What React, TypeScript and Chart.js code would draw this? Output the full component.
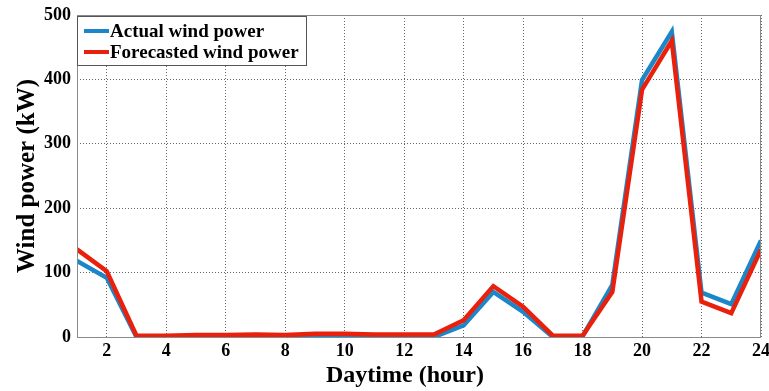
import React, { useEffect, useRef } from "react";
import { Chart, registerables } from "chart.js";

Chart.register(...registerables);

// Hours of the day
const hours = [1, 2, 3, 4, 5, 6, 7, 8, 9, 10, 11, 12, 13, 14, 15, 16, 17, 18, 19, 20, 21, 22, 23, 24];
// Measured wind power (kW)
const actualPower = [118, 92, 0, 1, 1, 1, 1, 1, 2, 2, 2, 1, 0, 18, 70, 39, 0, 1, 81, 399, 474, 69, 51, 150];
// Forecasted wind power (kW)
const forecastPower = [136, 102, 2, 2, 3, 3, 4, 3, 5, 5, 4, 4, 4, 26, 79, 47, 2, 2, 70, 384, 460, 55, 37, 136];
const xTicks = [2, 4, 6, 8, 10, 12, 14, 16, 18, 20, 22, 24];
const yTicks = [0, 100, 200, 300, 400, 500];
const xTitle = "Daytime (hour)";
const yTitle = "Wind power (kW)";

const BLUE = "#1b87c9";
const RED = "#e8200c";
const FONT = "'Liberation Serif', 'Times New Roman', serif";

const boxPlugin = {
  id: "boxAndLegend",
  afterDraw(chart: any) {
    const { ctx, chartArea } = chart;
    ctx.save();
    ctx.strokeStyle = "#8a8a8a";
    ctx.lineWidth = 1;
    ctx.setLineDash([]);
    ctx.strokeRect(chartArea.left + 0.5, chartArea.top + 0.5, chartArea.right - chartArea.left - 1, chartArea.bottom - chartArea.top);

    // legend box in the upper-left corner
    const lx = chartArea.left;
    const ly = chartArea.top + 1;
    const lw = 229;
    const lh = 49;
    ctx.fillStyle = "#ffffff";
    ctx.fillRect(lx, ly, lw, lh);
    ctx.strokeStyle = "#555555";
    ctx.strokeRect(lx + 0.5, ly + 0.5, lw, lh);
    ctx.font = `bold 19px ${FONT}`;
    ctx.textBaseline = "middle";
    ctx.fillStyle = "#000000";
    chart.data.datasets.forEach((ds: any, i: number) => {
      const cy = ly + 15 + i * 21;
      ctx.strokeStyle = ds.borderColor;
      ctx.lineWidth = 4;
      ctx.beginPath();
      ctx.moveTo(lx + 7, cy);
      ctx.lineTo(lx + 32, cy);
      ctx.stroke();
      ctx.fillText(ds.label, lx + 33, cy + 1);
    });

    // axis titles
    ctx.fillStyle = "#000000";
    ctx.textAlign = "center";
    ctx.textBaseline = "middle";
    ctx.font = `bold 24px ${FONT}`;
    ctx.fillText(xTitle, 405, 376);
    ctx.translate(28, (chartArea.top + chartArea.bottom) / 2);
    ctx.rotate(-Math.PI / 2);
    ctx.font = `bold 25px ${FONT}`;
    ctx.fillText(yTitle, 0, 0);
    ctx.restore();
  },
};

export default function App() {
  const canvasRef = useRef<HTMLCanvasElement>(null);

  useEffect(() => {
    if (!canvasRef.current) return;
    const chart = new Chart(canvasRef.current, {
      type: "line",
      data: {
        datasets: [
          {
            label: "Actual wind power",
            data: hours.map((h, i) => ({ x: h, y: actualPower[i] })),
            borderColor: BLUE,
            borderWidth: 4.5,
            pointRadius: 0,
            tension: 0,
            order: 2,
          },
          {
            label: "Forecasted wind power",
            data: hours.map((h, i) => ({ x: h, y: forecastPower[i] })),
            borderColor: RED,
            borderWidth: 4.5,
            pointRadius: 0,
            tension: 0,
            order: 1,
          },
        ],
      },
      options: {
        responsive: false,
        animation: false,
        layout: { padding: { top: 15, right: 8, left: 0, bottom: 0 } },
        plugins: { legend: { display: false }, tooltip: { enabled: false } },
        scales: {
          x: {
            type: "linear",
            min: 1,
            max: 24,
            afterBuildTicks: (scale: any) => {
              scale.ticks = xTicks.map((v) => ({ value: v }));
            },
            afterFit: (scale: any) => {
              scale.height = 54;
              scale.paddingRight = 0;
              scale.paddingLeft = 0;
            },
            grid: { color: "#666666", lineWidth: 1, drawTicks: false },
            border: { display: false, dash: [1, 2] },
            ticks: {
              color: "#000000",
              font: { family: FONT, size: 18, weight: "bold" },
              padding: 4,
              maxRotation: 0,
            },
          },
          y: {
            type: "linear",
            min: 0,
            max: 500,
            afterBuildTicks: (scale: any) => {
              scale.ticks = yTicks.map((v) => ({ value: v }));
            },
            afterFit: (scale: any) => {
              scale.width = 77;
              scale.paddingTop = 0;
              scale.paddingBottom = 0;
            },
            grid: { color: "#666666", lineWidth: 1, drawTicks: false },
            border: { display: false, dash: [1, 2] },
            ticks: {
              color: "#000000",
              font: { family: FONT, size: 18, weight: "bold" },
              padding: 6,
            },
          },
        },
      },
      plugins: [boxPlugin],
    });
    return () => chart.destroy();
  }, []);

  return (
    <div style={{ position: "fixed", left: 0, top: 0, width: 769, height: 391, background: "#fff" }}>
      <canvas ref={canvasRef} width={769} height={391} style={{ width: 769, height: 391 }} />
    </div>
  );
}
